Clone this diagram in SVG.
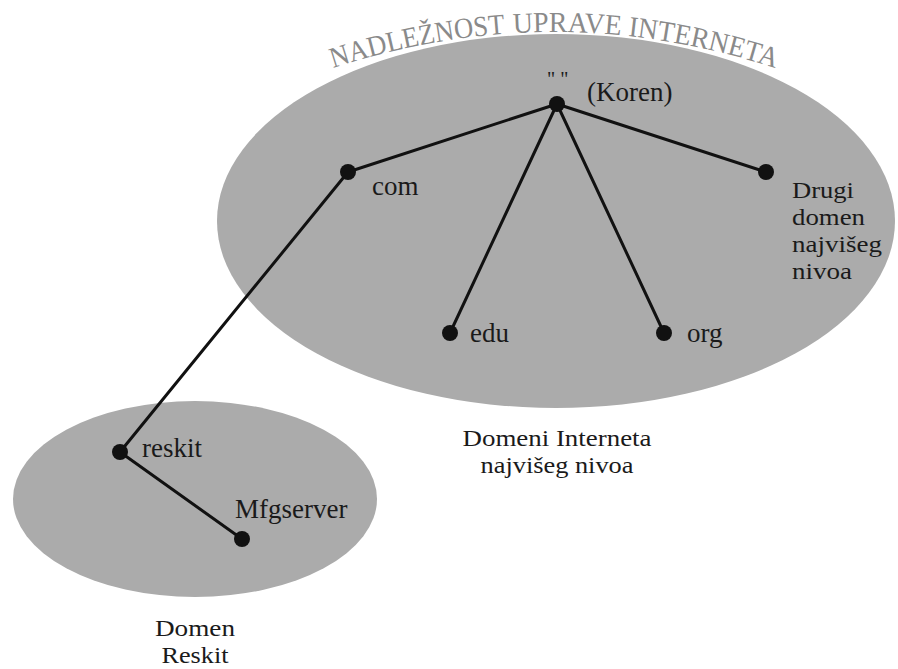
<svg xmlns="http://www.w3.org/2000/svg" width="898" height="669" viewBox="0 0 898 669">
  <style>
    .zone { fill: #ababab; }
    .edge { stroke: #111; stroke-width: 3; fill: none; stroke-linecap: round; }
    .dot { fill: #111; }
    .lbl { font-family: "Liberation Serif", "DejaVu Serif", serif; font-size: 27px; fill: #1a1a1a; }
    .stk { font-family: "Liberation Serif", "DejaVu Serif", serif; font-size: 24px; fill: #1a1a1a; }
    .cap { font-family: "Liberation Serif", "DejaVu Serif", serif; font-size: 24px; fill: #1a1a1a; text-anchor: middle; }
    .arc { font-family: "Liberation Serif", "DejaVu Serif", serif; font-size: 29px; fill: #8a8a8a; }
  </style>
  <defs>
    <!-- baseline curve for the arched heading -->
    <path id="titleArc" d="M 333 68 Q 554 -4 775 68"/>
  </defs>
  <rect width="898" height="669" fill="#ffffff"/>

  <!-- domain areas -->
  <g id="internet-zone">
    <ellipse class="zone" cx="556" cy="221" rx="339" ry="187"/>
  </g>
  <g id="reskit-zone">
    <ellipse class="zone" cx="195" cy="499" rx="182" ry="98"/>
  </g>

  <!-- arched heading, one word per run -->
  <g id="heading">
    <text class="arc"><textPath href="#titleArc" startOffset="0" textLength="176" lengthAdjust="spacingAndGlyphs">NADLEŽNOST</textPath></text>
    <text class="arc"><textPath href="#titleArc" startOffset="184" textLength="108" lengthAdjust="spacingAndGlyphs">UPRAVE</textPath></text>
    <text class="arc"><textPath href="#titleArc" startOffset="299" textLength="151" lengthAdjust="spacingAndGlyphs">INTERNETA</textPath></text>
  </g>

  <!-- connectors -->
  <g id="connectors">
    <line class="edge" x1="557" y1="104" x2="348" y2="172"/>
    <line class="edge" x1="557" y1="104" x2="450" y2="333"/>
    <line class="edge" x1="557" y1="104" x2="664" y2="333"/>
    <line class="edge" x1="557" y1="104" x2="766" y2="172"/>
    <line class="edge" x1="348" y1="172" x2="120" y2="452"/>
    <line class="edge" x1="120" y1="452" x2="242" y2="539"/>
  </g>

  <g id="root">
    <circle class="dot" cx="557" cy="104" r="8"/>
    <text class="lbl" x="547" y="86" style="font-size:20px">" "</text>
    <text class="lbl" x="587" y="101">(Koren)</text>
  </g>
  <g id="com">
    <circle class="dot" cx="348" cy="172" r="8"/>
    <text class="lbl" x="372" y="195">com</text>
  </g>
  <g id="edu">
    <circle class="dot" cx="450" cy="333" r="8"/>
    <text class="lbl" x="470" y="342">edu</text>
  </g>
  <g id="org">
    <circle class="dot" cx="664" cy="333" r="8"/>
    <text class="lbl" x="687" y="342">org</text>
  </g>
  <g id="other-tld">
    <circle class="dot" cx="766" cy="172" r="8"/>
    <text class="stk" x="792" y="198" textLength="62" lengthAdjust="spacingAndGlyphs">Drugi</text>
    <text class="stk" x="792" y="225" textLength="73" lengthAdjust="spacingAndGlyphs">domen</text>
    <text class="stk" x="792" y="252" textLength="90" lengthAdjust="spacingAndGlyphs">najvišeg</text>
    <text class="stk" x="792" y="279" textLength="60" lengthAdjust="spacingAndGlyphs">nivoa</text>
  </g>
  <g id="reskit">
    <circle class="dot" cx="120" cy="452" r="8"/>
    <text class="lbl" x="142" y="457">reskit</text>
  </g>
  <g id="mfgserver">
    <circle class="dot" cx="242" cy="539" r="8"/>
    <text class="lbl" x="235" y="518">Mfgserver</text>
  </g>

  <g id="captions">
    <text class="cap" x="557" y="446" textLength="189" lengthAdjust="spacingAndGlyphs">Domeni Interneta</text>
    <text class="cap" x="557" y="473" textLength="153" lengthAdjust="spacingAndGlyphs">najvišeg nivoa</text>
    <text class="cap" x="195" y="636" textLength="80" lengthAdjust="spacingAndGlyphs">Domen</text>
    <text class="cap" x="195" y="663" textLength="67" lengthAdjust="spacingAndGlyphs">Reskit</text>
  </g>
</svg>
